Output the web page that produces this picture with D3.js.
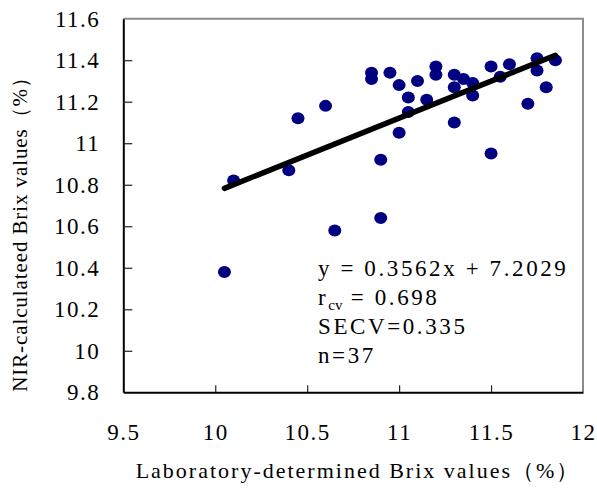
<!DOCTYPE html>
<html>
<head>
<meta charset="utf-8">
<script src="https://cdn.jsdelivr.net/npm/d3@7/dist/d3.min.js"></script>
<style>
  body { margin: 0; background: #fff; }
  text { font-family: "Liberation Serif", "Times New Roman", serif; fill: #000; }
</style>
</head>
<body>
<div id="chart"></div>
<script>
(function(d3){

  // lab-determined (x) vs NIR-calculated (y) Brix values
  var labBrix = [10.05, 10.1, 10.4, 10.45, 10.6, 10.65, 10.85, 10.85, 10.9, 10.9,
                 10.95, 11.0, 11.05, 11.05, 11.0, 11.1, 11.2, 11.2, 11.15, 11.3,
                 11.3, 11.35, 11.4, 11.4, 11.3, 11.5, 11.55, 11.6, 11.5, 11.7,
                 11.75, 11.75, 11.8, 11.85];
  var nirBrix = [10.38, 10.82, 10.87, 11.12, 11.18, 10.58, 11.34, 11.31, 10.92, 10.64,
                 11.34, 11.28, 11.22, 11.15, 11.05, 11.3, 11.37, 11.33, 11.21, 11.33,
                 11.27, 11.31, 11.29, 11.23, 11.1, 11.37, 11.32, 11.38, 10.95, 11.19,
                 11.41, 11.35, 11.27, 11.4];
  var xTicks = [9.5, 10, 10.5, 11, 11.5, 12];
  var yTicks = [9.8, 10, 10.2, 10.4, 10.6, 10.8, 11, 11.2, 11.4, 11.6];
  var fitSlope = 0.3562, fitIntercept = 7.2029;
  var fitRange = [10.05, 11.85];
  var statLines = ['y = 0.3562x + 7.2029', 'r|cv| = 0.698', 'SECV=0.335', 'n=37'];

  var size = {width: 597, height: 491},
      margin = {top: 18.7, right: 14, bottom: 98.7, left: 123.3},
      w = size.width - margin.left - margin.right,
      h = size.height - margin.top - margin.bottom;

  var svg = d3.select('#chart').append('svg')
      .attr('width', size.width)
      .attr('height', size.height);

  var g = svg.append('g')
      .attr('transform', 'translate(' + margin.left + ',' + margin.top + ')');

  var x = d3.scaleLinear().domain([9.5, 12]).range([0, w]);
  var y = d3.scaleLinear().domain([9.8, 11.6]).range([h, 0]);

  // gray top/right border
  g.append('path')
      .attr('d', 'M0,0H' + w + 'V' + h)
      .attr('fill', 'none')
      .attr('stroke', '#8c8c8c')
      .attr('stroke-width', 2);

  var xAxis = g.append('g')
      .attr('transform', 'translate(0,' + h + ')')
      .call(d3.axisBottom(x).tickValues(xTicks).tickSize(-7).tickSizeOuter(0)
        .tickPadding(31).tickFormat(d3.format('')));

  var yAxis = g.append('g')
      .call(d3.axisLeft(y).tickValues(yTicks).tickSize(-9).tickSizeOuter(0)
        .tickPadding(23).tickFormat(d3.format('')));

  [xAxis, yAxis].forEach(function(a) {
    a.select('.domain').attr('stroke', '#000').attr('stroke-width', 2);
    a.selectAll('.tick line').attr('stroke', '#222').attr('stroke-width', 1.2);
    a.selectAll('.tick text')
      .style('font-family', '"Liberation Serif", serif')
      .style('font-size', '23px')
      .style('letter-spacing', '1.5px')
      .attr('fill', '#000');
  });
  xAxis.selectAll('.tick').filter(function(d) { return d === 9.5 || d === 12; })
      .select('line').remove();
  yAxis.selectAll('.tick').filter(function(d) { return d === 9.8 || d === 11.6; })
      .select('line').remove();

  // points
  g.selectAll('ellipse')
      .data(labBrix)
    .enter().append('ellipse')
      .attr('cx', function(d) { return x(d); })
      .attr('cy', function(d, i) { return y(nirBrix[i]); })
      .attr('rx', 6.5)
      .attr('ry', 6)
      .attr('fill', '#000080');

  // fit line
  g.append('line')
      .attr('x1', x(fitRange[0]))
      .attr('y1', y(fitSlope * fitRange[0] + fitIntercept))
      .attr('x2', x(fitRange[1]))
      .attr('y2', y(fitSlope * fitRange[1] + fitIntercept))
      .attr('stroke', '#000')
      .attr('stroke-width', 5.5)
      .attr('stroke-linecap', 'round');

  // stats text
  var stats = svg.append('g')
      .attr('transform', 'translate(318,276)');
  statLines.forEach(function(s, i) {
    var t = stats.append('text')
        .attr('y', i * 29)
        .style('font-size', '23px')
        .style('letter-spacing', '2.6px');
    var parts = s.split('|');
    t.append('tspan').text(parts[0]);
    if (parts.length > 1) {
      t.append('tspan').attr('dy', 5).style('font-size', '15px').style('letter-spacing', '0px').text(parts[1]);
      t.append('tspan').attr('dy', -5).text(parts[2]);
    }
  });

  // axis titles
  svg.append('text')
      .attr('x', 358)
      .attr('y', 478)
      .attr('text-anchor', 'middle')
      .style('font-size', '22px')
      .style('letter-spacing', '2px')
      .text('Laboratory-determined Brix values（%）');

  svg.append('text')
      .attr('transform', 'translate(27,229) rotate(-90)')
      .attr('text-anchor', 'middle')
      .style('font-size', '21px')
      .style('letter-spacing', '0.9px')
      .text('NIR-calculateed Brix values（%）');

})(d3);
</script>
</body>
</html>
